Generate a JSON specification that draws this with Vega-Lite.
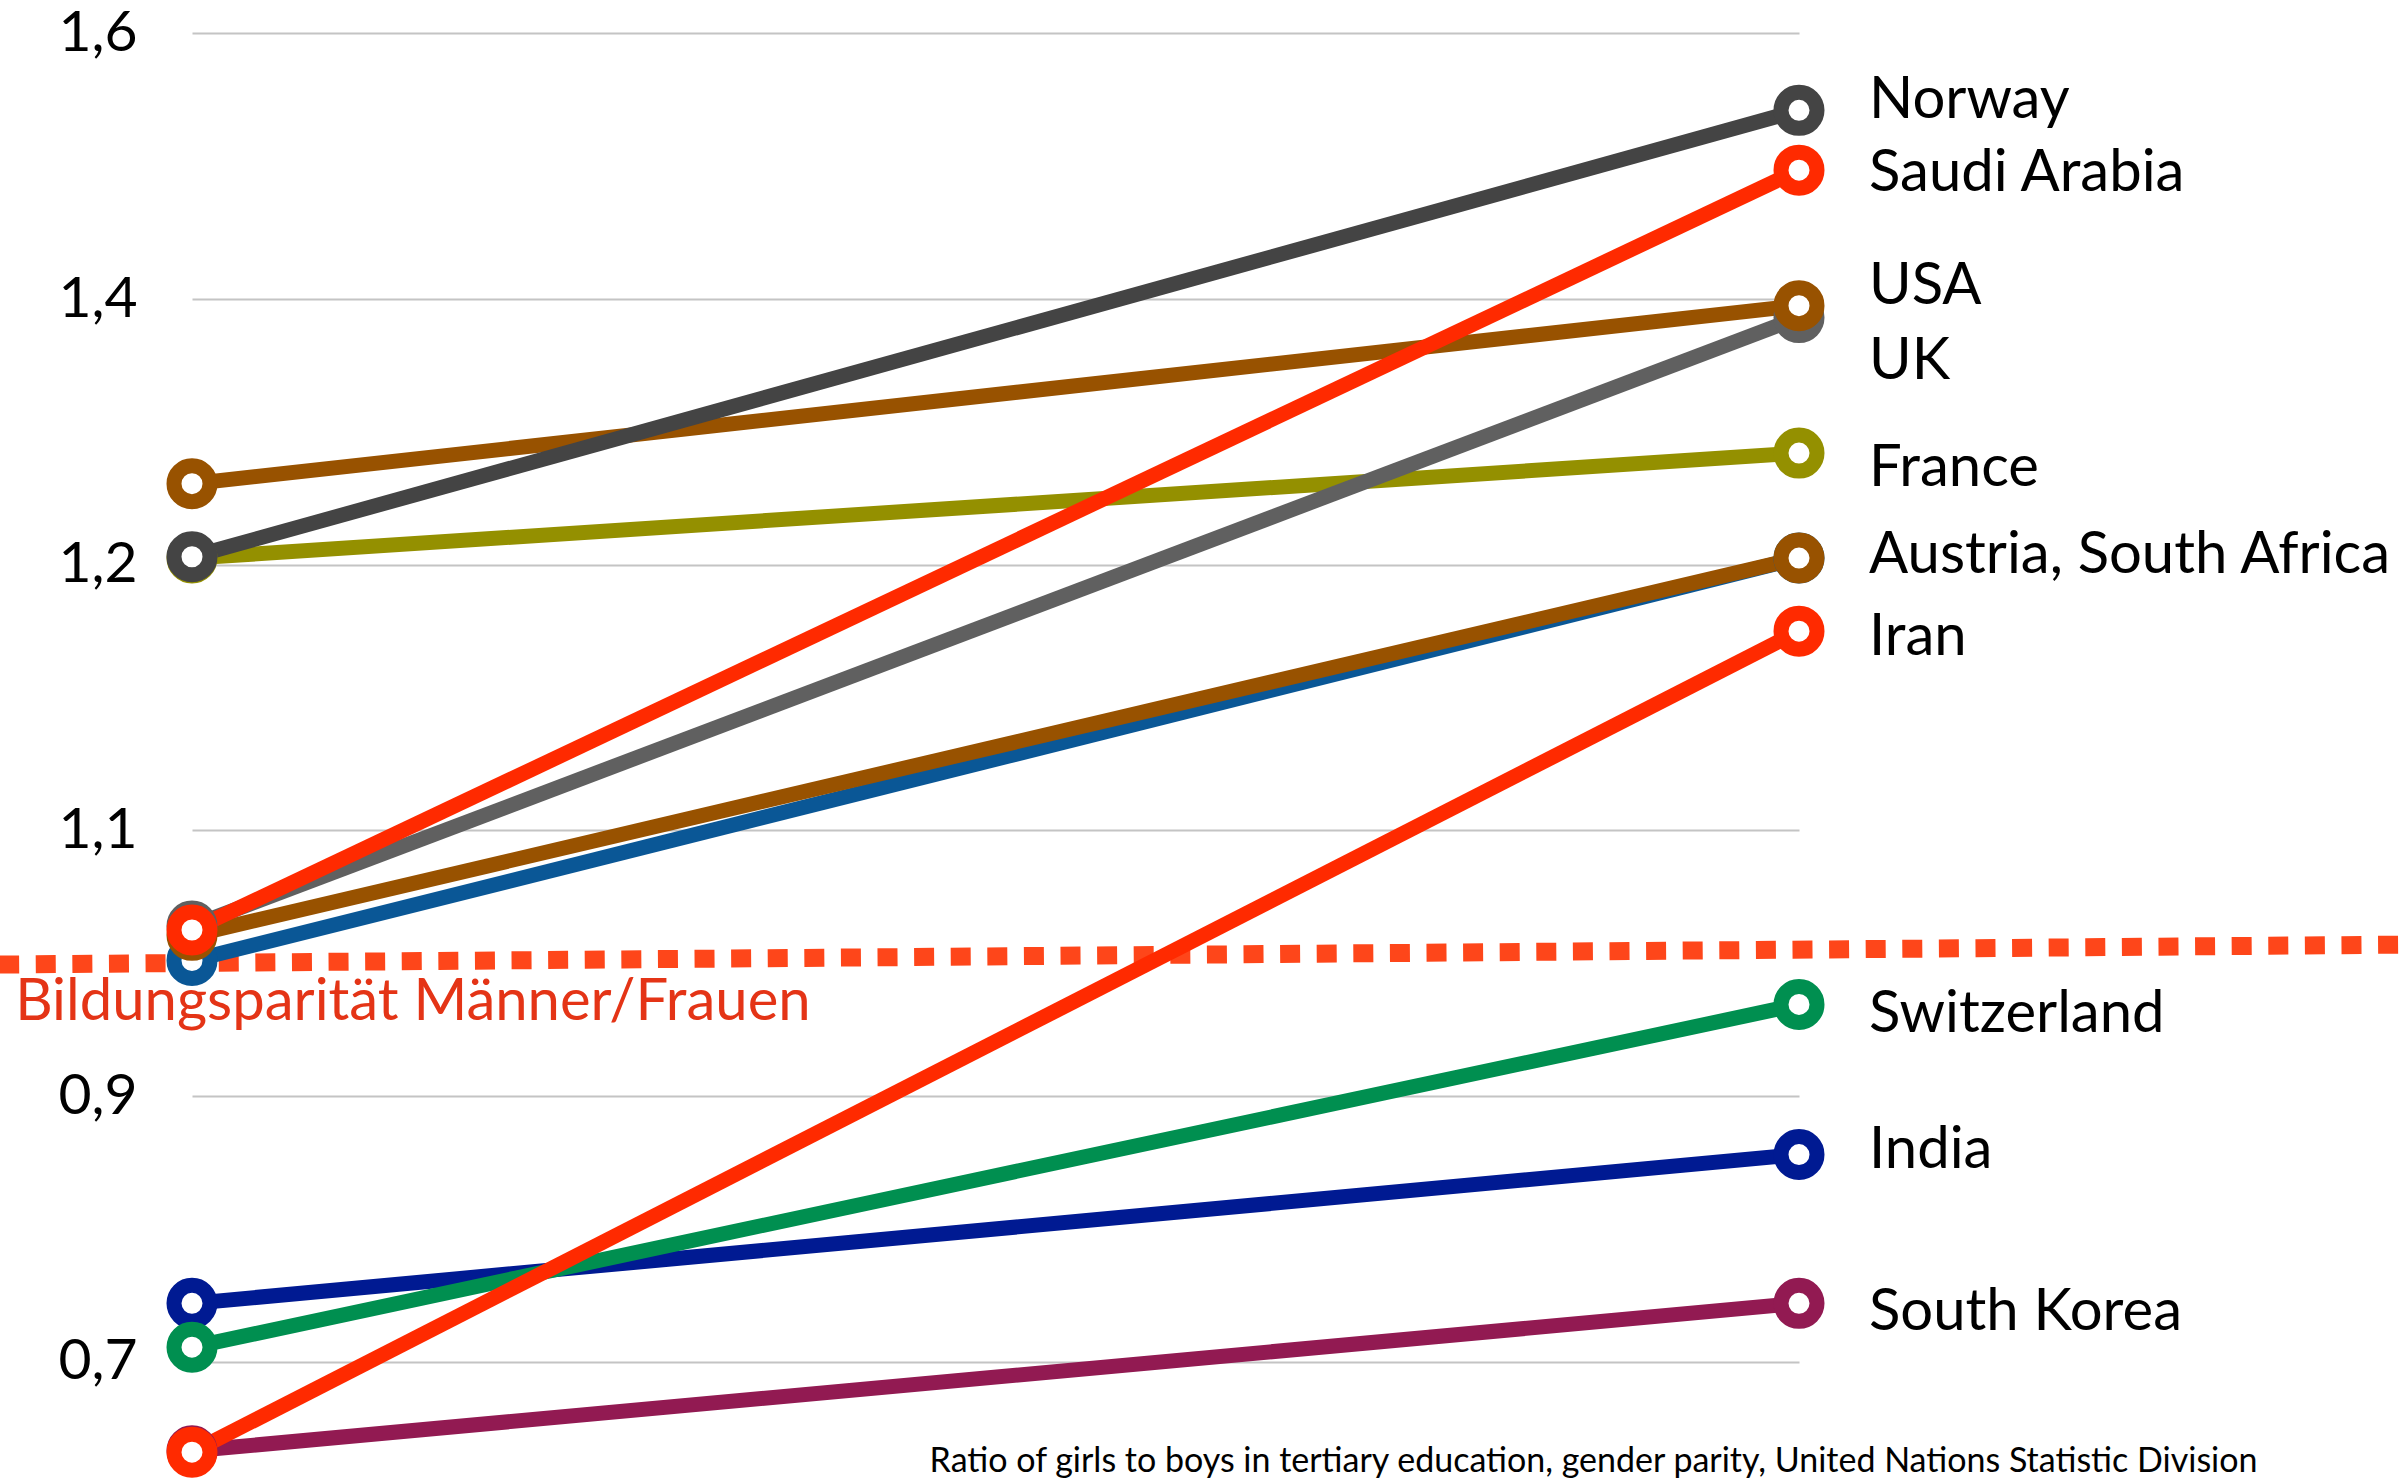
{
  "$schema": "https://vega.github.io/schema/vega-lite/v6.json",
  "width": 1607,
  "height": 1481,
  "autosize": {"type": "none"},
  "padding": {"left": 192, "top": 0, "right": 603, "bottom": 0},
  "background": "white",
  "config": {"view": {"stroke": null}, "font": "Lato"},
  "datasets": {
    "ratios": [
      {"country": "Austria", "pos": 0, "value": 1.002},
      {"country": "Austria", "pos": 1, "value": 1.205},
      {"country": "South Africa", "pos": 0, "value": 1.021},
      {"country": "South Africa", "pos": 1, "value": 1.205},
      {"country": "France", "pos": 0, "value": 1.205},
      {"country": "France", "pos": 1, "value": 1.284},
      {"country": "UK", "pos": 0, "value": 1.028},
      {"country": "UK", "pos": 1, "value": 1.386},
      {"country": "USA", "pos": 0, "value": 1.261},
      {"country": "USA", "pos": 1, "value": 1.395},
      {"country": "Norway", "pos": 0, "value": 1.206},
      {"country": "Norway", "pos": 1, "value": 1.542},
      {"country": "South Korea", "pos": 0, "value": 0.633},
      {"country": "South Korea", "pos": 1, "value": 0.744},
      {"country": "India", "pos": 0, "value": 0.744},
      {"country": "India", "pos": 1, "value": 0.856},
      {"country": "Switzerland", "pos": 0, "value": 0.711},
      {"country": "Switzerland", "pos": 1, "value": 0.969},
      {"country": "Iran", "pos": 0, "value": 0.632},
      {"country": "Iran", "pos": 1, "value": 1.175},
      {"country": "Saudi Arabia", "pos": 0, "value": 1.025},
      {"country": "Saudi Arabia", "pos": 1, "value": 1.497}
    ],
    "labels": [
      {"label": "Norway", "pos": 1, "value": 1.536},
      {"label": "Saudi Arabia", "pos": 1, "value": 1.481},
      {"label": "USA", "pos": 1, "value": 1.396},
      {"label": "UK", "pos": 1, "value": 1.34},
      {"label": "France", "pos": 1, "value": 1.259},
      {"label": "Austria, South Africa", "pos": 1, "value": 1.197},
      {"label": "Iran", "pos": 1, "value": 1.166},
      {"label": "Switzerland", "pos": 1, "value": 0.948},
      {"label": "India", "pos": 1, "value": 0.846},
      {"label": "South Korea", "pos": 1, "value": 0.724}
    ],
    "parity": [
      {"pos": -0.12, "value": 0.999},
      {"pos": 1.375, "value": 1.014}
    ],
    "parityLabel": [
      {"text": "Bildungsparität Männer/Frauen", "pos": -0.11, "value": 0.957}
    ],
    "source": [
      {"text": "Ratio of girls to boys in tertiary education, gender parity, United Nations Statistic Division", "pos": 0.459, "value": 0.617}
    ]
  },
  "encoding": {
    "x": {
      "field": "pos",
      "type": "quantitative",
      "scale": {"domain": [0, 1], "nice": false, "zero": false},
      "axis": null
    },
    "y": {
      "field": "value",
      "type": "quantitative",
      "scale": {
        "domain": [0.7, 0.9, 1.1, 1.2, 1.4, 1.6],
        "range": [1361.8, 1096.1, 830.4, 564.7, 299, 33.3],
        "nice": false,
        "zero": false
      },
      "axis": {
        "title": null,
        "values": [0.7, 0.9, 1.1, 1.2, 1.4, 1.6],
        "labelExpr": "replace(format(datum.value, '.1f'), '.', ',')",
        "domain": false,
        "ticks": false,
        "grid": true,
        "gridColor": "#c4c4c4",
        "gridWidth": 2,
        "labelFont": "Lato",
        "labelFontSize": 57,
        "labelColor": "#000000",
        "labelPadding": 55
      }
    }
  },
  "layer": [
    {
      "data": {"name": "parity"},
      "mark": {"type": "line", "color": "#fe461a", "strokeWidth": 18, "strokeDash": [20, 16.6], "strokeCap": "butt"}
    },
    {
      "data": {"name": "ratios"},
      "mark": {"type": "line", "strokeWidth": 15, "strokeCap": "butt"},
      "encoding": {
        "color": {
          "field": "country",
          "type": "nominal",
          "legend": null,
          "scale": {
            "domain": ["Norway", "Saudi Arabia", "USA", "UK", "France", "Austria", "South Africa", "Iran", "Switzerland", "India", "South Korea"],
            "range": ["#444444", "#ff2a00", "#985200", "#606060", "#949000", "#0a5796", "#985200", "#ff2a00", "#008f50", "#001a92", "#921a52"]
          }
        }
      }
    },
    {
      "data": {"name": "ratios"},
      "mark": {"type": "point", "shape": "circle", "filled": false, "fill": "white", "fillOpacity": 1, "opacity": 1, "strokeWidth": 15, "size": 1296},
      "encoding": {
        "color": {
          "field": "country",
          "type": "nominal",
          "legend": null
        }
      }
    },
    {
      "data": {"name": "labels"},
      "mark": {"type": "text", "align": "left", "baseline": "alphabetic", "dx": 70, "font": "Lato", "fontSize": 58, "color": "#000000"},
      "encoding": {"text": {"field": "label"}}
    },
    {
      "data": {"name": "parityLabel"},
      "mark": {"type": "text", "align": "left", "baseline": "alphabetic", "font": "Lato", "fontSize": 58, "color": "#e43416"},
      "encoding": {"text": {"field": "text"}}
    },
    {
      "data": {"name": "source"},
      "mark": {"type": "text", "align": "left", "baseline": "alphabetic", "font": "Lato", "fontSize": 34, "color": "#000000"},
      "encoding": {"text": {"field": "text"}}
    }
  ]
}
